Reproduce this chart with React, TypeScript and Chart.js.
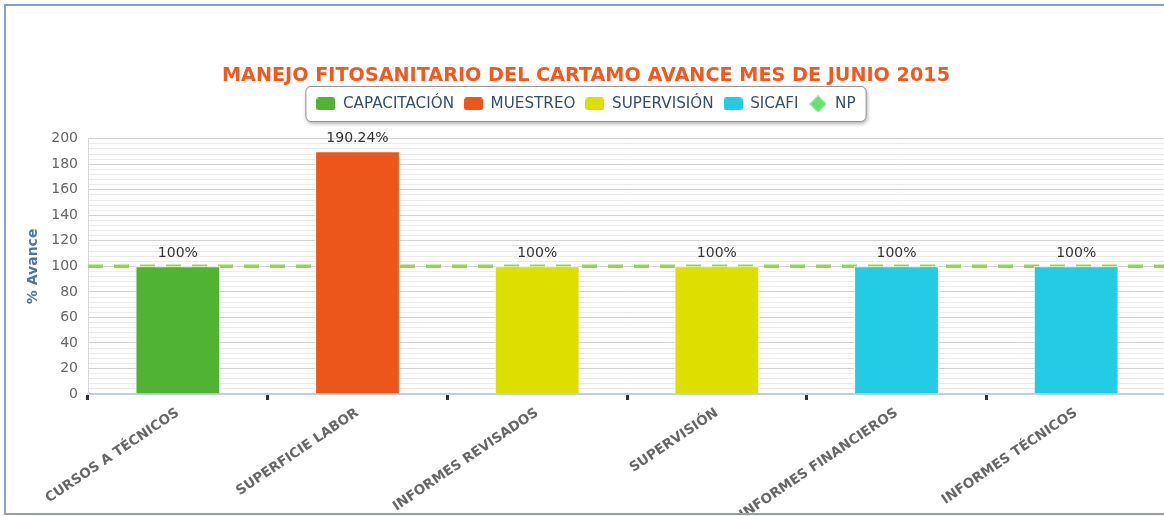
import React, { useEffect, useRef } from 'react';
import { Chart, registerables } from 'chart.js';

Chart.register(...registerables);

// ---- data ----
const categories = [
  'CURSOS A TÉCNICOS',
  'SUPERFICIE LABOR',
  'INFORMES REVISADOS',
  'SUPERVISIÓN',
  'INFORMES FINANCIEROS',
  'INFORMES TÉCNICOS',
];
const seriesNames = ['CAPACITACIÓN', 'MUESTREO', 'SUPERVISIÓN', 'SICAFI'];
const capacitacion = [100, null, null, null, null, null];
const muestreo = [null, 190.24, null, null, null, null];
const supervision = [null, null, 100, 100, null, null];
const sicafi = [null, null, null, null, 100, 100];
const npName = 'NP';
const npValue = 100;
const yTicksMin = 0;
const yTicksMax = 200;
const yMinorStep = 4;
const yMajorStep = 20;
const titleText = 'MANEJO FITOSANITARIO DEL CARTAMO AVANCE MES DE JUNIO 2015';
const yTitleText = '% Avance';

// ---- styles ----
const seriesColors = ['#50B432', '#ED561B', '#DDDF00', '#24CBE5'];
const npLineColor = '#97d548';
const npMarkerColor = '#64E572';
const W = 1168;
const H = 507;

function makeSwatch(color: string, w: number, h: number, r: number) {
  const c = document.createElement('canvas');
  c.width = w;
  c.height = h;
  const ctx = c.getContext('2d')!;
  ctx.fillStyle = color;
  ctx.beginPath();
  (ctx as any).roundRect(0, 0, w, h, r);
  ctx.fill();
  return c;
}
function makeDiamond(color: string, s: number) {
  const c = document.createElement('canvas');
  c.width = s;
  c.height = s;
  const ctx = c.getContext('2d')!;
  ctx.fillStyle = color;
  ctx.beginPath();
  ctx.moveTo(s / 2, 0);
  ctx.lineTo(s, s / 2);
  ctx.lineTo(s / 2, s);
  ctx.lineTo(0, s / 2);
  ctx.closePath();
  ctx.fill();
  return c;
}

const legendSpacePlugin = {
  id: 'legendSpace',
  beforeLayout(chart: any) {
    const lg = chart.legend;
    if (lg && !lg._patched) {
      const orig = lg.fit.bind(lg);
      lg.fit = () => {
        orig();
        lg.height += 17.2;
      };
      lg._patched = true;
    }
  },
};

const legendFramePlugin = {
  id: 'legendFrame',
  beforeDraw(chart: any) {
    const lg = chart.legend;
    if (!lg || !lg.legendHitBoxes || !lg.legendHitBoxes.length) return;
    const hb = lg.legendHitBoxes;
    let l = Infinity, r = -Infinity, t = Infinity, b = -Infinity;
    hb.forEach((h: any) => {
      l = Math.min(l, h.left);
      r = Math.max(r, h.left + h.width);
      t = Math.min(t, h.top);
      b = Math.max(b, h.top + h.height);
    });
    const cy = (t + b) / 2;
    const x0 = l - 10.5, x1 = r + 10.5, y0 = cy - 17.5, y1 = cy + 17.5;
    const ctx = chart.ctx;
    ctx.save();
    ctx.shadowColor = 'rgba(0,0,0,0.35)';
    ctx.shadowBlur = 4;
    ctx.shadowOffsetX = 1;
    ctx.shadowOffsetY = 2;
    ctx.fillStyle = '#ffffff';
    ctx.beginPath();
    ctx.roundRect(x0, y0, x1 - x0, y1 - y0, 5);
    ctx.fill();
    ctx.shadowColor = 'transparent';
    ctx.strokeStyle = '#909090';
    ctx.lineWidth = 1;
    ctx.stroke();
    ctx.restore();
  },
};

const dataLabelPlugin = {
  id: 'dataLabels',
  afterDatasetsDraw(chart: any) {
    const ctx = chart.ctx;
    ctx.save();
    ctx.font = '14px "DejaVu Sans"';
    ctx.fillStyle = '#333333';
    ctx.textAlign = 'center';
    ctx.textBaseline = 'middle';
    chart.data.datasets.forEach((ds: any, di: number) => {
      if (ds.type !== 'bar') return;
      const meta = chart.getDatasetMeta(di);
      ds.data.forEach((v: any, i: number) => {
        if (v === null || v === undefined) return;
        const el = meta.data[i];
        if (!el) return;
        ctx.fillText(String(v) + '%', el.x, el.y - 13);
      });
    });
    ctx.restore();
  },
};

export default function App() {
  const ref = useRef<HTMLCanvasElement>(null);

  useEffect(() => {
    if (!ref.current) return;
    Chart.defaults.font.family = '"DejaVu Sans", Verdana, sans-serif';
    const barData = [capacitacion, muestreo, supervision, sicafi];
    const swatches = seriesColors.map((c) => makeSwatch(c, 19, 13, 3));
    const diamond = makeDiamond(npMarkerColor, 17);

    const datasets: any[] = seriesNames.map((name, i) => ({
      type: 'bar',
      label: name,
      data: barData[i],
      backgroundColor: seriesColors[i],
      borderColor: '#ffffff',
      borderWidth: 1,
      grouped: false,
      barPercentage: 0.472,
      categoryPercentage: 1,
      order: 0,
    }));
    datasets.push({
      type: 'line',
      label: npName,
      xAxisID: 'x2',
      data: [
        { x: -0.5, y: npValue },
        { x: categories.length - 0.5, y: npValue },
      ],
      borderColor: npLineColor,
      backgroundColor: npMarkerColor,
      borderWidth: 3.5,
      borderDash: [15, 11],
      pointRadius: 0,
      fill: false,
      order: 10,
    });

    const chart = new Chart(ref.current, {
      data: { labels: categories, datasets },
      options: {
        responsive: false,
        animation: false,
        devicePixelRatio: 1,
        layout: { padding: { left: 0, right: 8, top: 0, bottom: 0 } },
        plugins: {
          title: {
            display: true,
            text: titleText,
            color: '#EF5A1F',
            font: { size: 19.2, weight: 'bold' },
            padding: { top: 58.5, bottom: -1.2 },
          },
          legend: {
            display: true,
            position: 'top',
            labels: {
              usePointStyle: true,
              pointStyleWidth: 19,
              padding: 10,
              color: '#34506e',
              font: { size: 15.2 },
              generateLabels: () =>
                datasets.map((ds, i) => ({
                  text: ds.label,
                  pointStyle: i < swatches.length ? swatches[i] : diamond,
                  fillStyle: i < seriesColors.length ? seriesColors[i] : npMarkerColor,
                  strokeStyle: 'transparent',
                  lineWidth: 0,
                  hidden: false,
                  datasetIndex: i,
                  fontColor: '#34506e',
                })),
            },
          },
          tooltip: { enabled: false },
        },
        scales: {
          x: {
            type: 'category',
            offset: true,
            afterFit: (s: any) => {
              s.height = 119;
            },
            grid: {
              display: true,
              offset: true,
              drawOnChartArea: false,
              drawTicks: true,
              tickLength: 6,
              tickWidth: 3,
              tickColor: '#333333',
            },
            border: { display: true, color: '#c0d0e0', width: 2 },
            ticks: {
              autoSkip: false,
              minRotation: 34,
              maxRotation: 34,
              padding: 5,
              color: '#666666',
              font: { size: 13.5, weight: 'bold' },
            },
          },
          x2: {
            type: 'linear',
            display: false,
            min: -0.5,
            max: categories.length - 0.5,
          },
          y: {
            min: yTicksMin,
            max: yTicksMax,
            afterFit: (s: any) => {
              s.width = 82;
            },
            ticks: {
              stepSize: yMinorStep,
              autoSkip: false,
              padding: 10,
              color: '#666666',
              font: { size: 14 },
              callback: (v: any) => (Number(v) % yMajorStep === 0 ? String(v) : ''),
            },
            grid: {
              drawTicks: false,
              color: (c: any) => (c.tick && c.tick.value % yMajorStep === 0 ? '#d2d2d2' : '#ebebeb'),
              lineWidth: 1,
            },
            border: { display: true, color: '#d8d8d8', width: 1 },
            title: {
              display: true,
              text: yTitleText,
              color: '#4d759e',
              font: { size: 14, weight: 'bold' },
              padding: { top: 19, bottom: 0 },
            },
          },
        },
      } as any,
      plugins: [legendSpacePlugin, legendFramePlugin, dataLabelPlugin],
    } as any);
    return () => chart.destroy();
  }, []);

  return (
    <div
      style={{
        position: 'fixed',
        left: 0,
        top: 0,
        width: 1164,
        height: 516,
        overflow: 'hidden',
        background: '#ffffff',
      }}
    >
      <div
        style={{
          position: 'absolute',
          left: 4,
          top: 4,
          width: 1200,
          height: H,
          border: '2px solid #87a1c5',
          overflow: 'hidden',
        }}
      >
        <canvas
          ref={ref}
          width={W}
          height={H}
          style={{ position: 'absolute', left: 0, top: 0, width: W, height: H }}
        />
      </div>
    </div>
  );
}
